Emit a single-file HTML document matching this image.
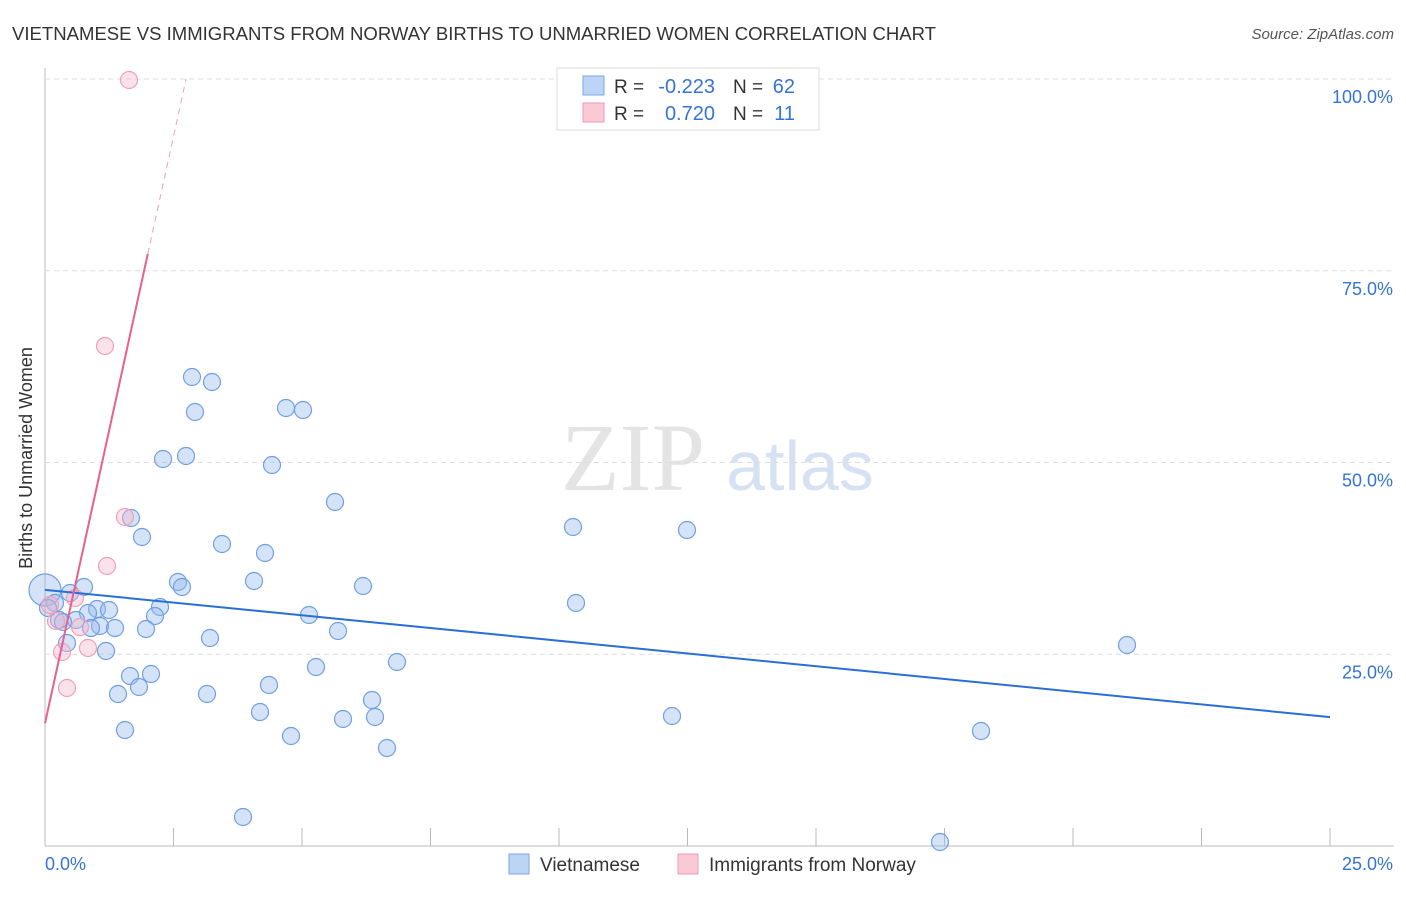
<!DOCTYPE html>
<html><head><meta charset="utf-8"><style>
body{margin:0;background:#fff;font-family:"Liberation Sans",sans-serif}
</style></head><body>
<svg id="c" width="1406" height="892" xmlns="http://www.w3.org/2000/svg">
<text x="12" y="40" font-size="18" fill="#333" textLength="924" lengthAdjust="spacingAndGlyphs">VIETNAMESE VS IMMIGRANTS FROM NORWAY BIRTHS TO UNMARRIED WOMEN CORRELATION CHART</text>
<text x="1394" y="39" font-size="15" fill="#555" text-anchor="end" font-style="italic">Source: ZipAtlas.com</text>
<text x="32" y="458" font-size="18" fill="#333" text-anchor="middle" transform="rotate(-90 32 458)">Births to Unmarried Women</text>
<text x="633" y="490" font-size="96" fill="#e4e4e4" text-anchor="middle" font-family="Liberation Serif,serif">ZIP</text>
<text x="800" y="490" font-size="70" fill="#d6e2f4" text-anchor="middle">atlas</text>
<g id="grid"></g><g id="pts"></g><g id="lines"></g>
<g>
<rect x="557" y="68" width="262" height="62" fill="#fff" stroke="#ddd"/>
<rect x="583" y="76" width="21" height="19" fill="#bcd4f5" stroke="#7aa7e6"/>
<rect x="583" y="103" width="21" height="19" fill="#f9c9d6" stroke="#ee9ab2"/>
<text x="614" y="93" font-size="19" fill="#333">R =</text>
<text x="715" y="93" font-size="20" fill="#3574d6" text-anchor="end">-0.223</text>
<text x="733" y="93" font-size="19" fill="#333">N =</text>
<text x="795" y="93" font-size="20" fill="#3574d6" text-anchor="end">62</text>
<text x="614" y="120" font-size="19" fill="#333">R =</text>
<text x="715" y="120" font-size="20" fill="#3574d6" text-anchor="end">0.720</text>
<text x="733" y="120" font-size="19" fill="#333">N =</text>
<text x="795" y="120" font-size="20" fill="#3574d6" text-anchor="end">11</text>
</g>
<g>
<rect x="509" y="854" width="20" height="20" fill="#bcd4f5" stroke="#7aa7e6"/>
<text x="540" y="871" font-size="19" fill="#333">Vietnamese</text>
<rect x="678" y="854" width="20" height="20" fill="#f9c9d6" stroke="#ee9ab2"/>
<text x="709" y="871" font-size="19" fill="#333">Immigrants from Norway</text>
</g>
</svg>
<script>
const yTicks=[25,50,75,100];
const xTickLabels=["0.0%","25.0%"];
const blueX=[192,212,195,286,303,163,186,272,335,131,573,687,142,222,265,178,182,254,363,84,70,45,160,155,97,109,88,309,576,1127,59,76,100,115,91,146,338,210,67,106,397,316,130,151,269,139,118,207,372,260,343,375,672,125,981,291,387,243,940,55,48,63].map(p=>(p-45)/1285*25);
const blueY=[377,382,412,408,410,459,456,465,502,518,527,530,537,544,553,582,587,581,586,587,593,590,607,616,609,610,613,615,603,645,620,620,626,628,628,629,631,638,643,651,662,667,676,674,685,687,694,694,700,712,719,717,716,730,731,736,748,817,842,603,608,622].map(p=>(846-p)/767*100);
const pinkX=[129,105,125,107,75,56,80,62,88,67,50].map(p=>(p-45)/1285*25);
const pinkY=[80,346,517,566,598,621,627,652,648,688,605].map(p=>(846-p)/767*100);
const blueLine=[33.4,16.8];
const pinkLine=[16.0,30.6];
const X=v=>45+v/25*1285, Y=v=>846-v/100*767;
const NS="http://www.w3.org/2000/svg";
function mk(t,a,parent){const e=document.createElementNS(NS,t);for(const k in a)e.setAttribute(k,a[k]);document.getElementById(parent).appendChild(e);return e;}
let e=mk('line',{x1:45,y1:68,x2:45,y2:846,stroke:'#bbb'},'grid');


e=mk('line',{x1:45,y1:846,x2:1394,y2:846,stroke:'#bbb'},'grid');


for(let i=0;i<=10;i++){e=mk('line',{x1:X(i*2.5),y1:828,x2:X(i*2.5),y2:846,stroke:'#bbb'},'grid');

}
yTicks.forEach(t=>{e=mk('line',{x1:45,y1:Y(t),x2:1394,y2:Y(t),stroke:'#ddd','stroke-dasharray':'5,4'},'grid');


e=mk('text',{x:1393,y:Y(t)+24,'font-size':18,fill:'#3574d6','text-anchor':'end'},'grid');e.textContent=t.toFixed(1)+'%';

});
e=mk('text',{x:45,y:870,'font-size':18,fill:'#3574d6'},'grid');e.textContent=xTickLabels[0];


e=mk('text',{x:1393,y:870,'font-size':18,fill:'#3574d6','text-anchor':'end'},'grid');e.textContent=xTickLabels[1];


blueX.forEach((x,i)=>{e=mk('circle',{cx:X(x),cy:Y(blueY[i]),r:i==21?16:8.5,fill:'rgba(150,185,240,0.4)',stroke:'#6f9fe3','stroke-width':1.2},'pts');

});
pinkX.forEach((x,i)=>{e=mk('circle',{cx:X(x),cy:Y(pinkY[i]),r:8.5,fill:'rgba(245,180,200,0.4)',stroke:'#eea0b8','stroke-width':1.2},'pts');

});
e=mk('line',{x1:X(0),y1:Y(blueLine[0]),x2:X(25),y2:Y(blueLine[1]),stroke:'#2a6fd6','stroke-width':2},'lines');


const pe=(100-pinkLine[0])/pinkLine[1];
e=mk('line',{x1:X(0),y1:Y(pinkLine[0]),x2:X(2),y2:Y(pinkLine[0]+2*pinkLine[1]),stroke:'#e8608c','stroke-width':2},'lines');


e=mk('line',{x1:X(2),y1:Y(pinkLine[0]+2*pinkLine[1]),x2:X(pe),y2:Y(100),stroke:'#eea0b8','stroke-width':1,'stroke-dasharray':'6,5'},'lines');


</script>
</body></html>
